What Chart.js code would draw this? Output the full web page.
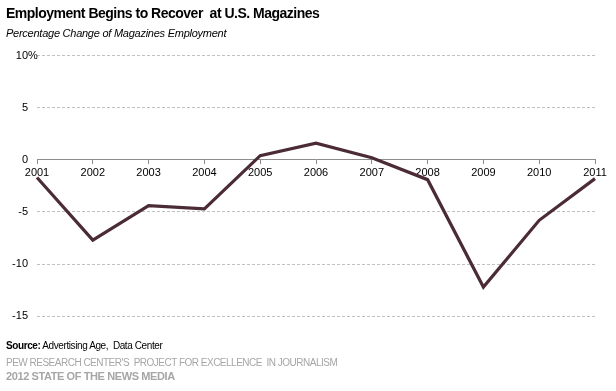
<!DOCTYPE html>
<html>
<head>
<meta charset="utf-8">
<script src="https://cdn.jsdelivr.net/npm/chart.js@4.4.1/dist/chart.umd.min.js"></script>
<style>
  html, body { margin: 0; padding: 0; background: #fff; }
  #wrap { position: relative; width: 616px; height: 391px; overflow: hidden; font-family: "Liberation Sans", Arial, sans-serif; }
  #c { position: absolute; left: 0; top: 0; }
  .t { position: absolute; left: 6px; white-space: pre; }
  #title { top: 5px; font-size: 14px; font-weight: bold; color: #000; letter-spacing: -0.5px; }
  #sub { top: 27px; font-size: 11px; font-style: italic; color: #000; letter-spacing: -0.25px; }
  #src { top: 340px; font-size: 10px; color: #000; letter-spacing: -0.4px; }
  #pew { top: 357px; font-size: 10px; color: #a6a6a6; letter-spacing: -0.5px; }
  #som { top: 370px; font-size: 11px; font-weight: bold; color: #a6a6a6; letter-spacing: -0.4px; }
</style>
</head>
<body>
<div id="wrap">
  <canvas id="c" width="616" height="391"></canvas>
  <div class="t" id="title">Employment Begins to Recover  at U.S. Magazines</div>
  <div class="t" id="sub">Percentage Change of Magazines Employment</div>
  <div class="t" id="src"><b>Source:</b> Advertising Age,  Data Center</div>
  <div class="t" id="pew">PEW RESEARCH CENTER'S  PROJECT FOR EXCELLENCE  IN JOURNALISM</div>
  <div class="t" id="som">2012 STATE OF THE NEWS MEDIA</div>
</div>
<script>
const years = ["2001","2002","2003","2004","2005","2006","2007","2008","2009","2010","2011"];
const employmentChange = [-1.7, -7.7, -4.4, -4.7, 0.4, 1.6, 0.2, -1.9, -12.2, -5.8, -1.8];
const yTicks = [10, 5, 0, -5, -10, -15];

const percentPlugin = {
  id: 'percentSign',
  afterDraw(chart) {
    const ys = chart.scales.y;
    const ctx = chart.ctx;
    ctx.save();
    ctx.font = '11px "Liberation Sans", Arial, sans-serif';
    ctx.fillStyle = '#000';
    ctx.textAlign = 'left';
    ctx.textBaseline = 'middle';
    ctx.fillText('%', ys.right - 9, ys.getPixelForValue(10));
    ctx.restore();
  }
};

new Chart(document.getElementById('c'), {
  type: 'line',
  data: {
    labels: years,
    datasets: [{
      data: employmentChange,
      borderColor: '#4b2c36',
      borderWidth: 3.2,
      pointRadius: 0,
      tension: 0,
      fill: false
    }]
  },
  options: {
    responsive: false,
    animation: false,
    devicePixelRatio: 1,
    layout: { padding: { top: 55.5, right: 21, bottom: 74.7, left: 0 } },
    plugins: { legend: { display: false }, tooltip: { enabled: false } },
    scales: {
      x: {
        type: 'category',
        offset: false,
        position: { y: 0 },
        border: { display: true, color: '#8c8c8c', width: 1 },
        grid: { display: true, drawOnChartArea: false, drawTicks: true, tickLength: 4, color: '#8c8c8c' },
        ticks: { color: '#000', font: { family: '"Liberation Sans", Arial, sans-serif', size: 11 }, padding: 3, maxRotation: 0, autoSkip: false }
      },
      y: {
        min: -15,
        max: 10,
        afterBuildTicks(scale) { scale.ticks = yTicks.map(v => ({ value: v })); },
        afterFit(scale) { scale.width = 37; },
        border: { display: false, dash: [3, 2] },
        grid: {
          drawTicks: false,
          color: (ctx) => ctx.tick && ctx.tick.value === 0 ? 'rgba(0,0,0,0)' : '#c0c0c0',
          lineWidth: 1
        },
        ticks: {
          color: '#000',
          padding: 9,
          font: { family: '"Liberation Sans", Arial, sans-serif', size: 11 },
          callback: (v) => String(v)
        }
      }
    }
  },
  plugins: [percentPlugin]
});
</script>
</body>
</html>
